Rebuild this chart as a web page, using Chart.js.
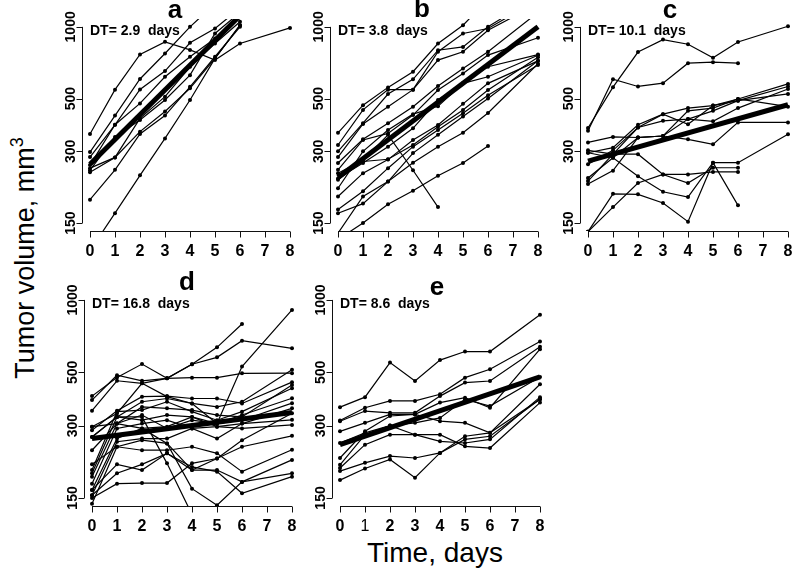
<!DOCTYPE html>
<html>
<head>
<meta charset="utf-8">
<script src="https://cdn.jsdelivr.net/npm/chart.js@4.4.1/dist/chart.umd.min.js"></script>
<style>
  body { margin: 0; background: #fff; width: 800px; height: 572px; position: relative; overflow: hidden;
         font-family: "Liberation Sans", Arial, sans-serif; }
  canvas { position: absolute; }
  #ytitle { position: absolute; left: 25px; top: 258px; transform: translate(-50%, -50%) rotate(-90deg);
            font-size: 27px; white-space: nowrap; line-height: 30px; }
  #ytitle sup { font-size: 18px; vertical-align: 11px; line-height: 0; }
  #xtitle { position: absolute; left: 367px; top: 539px; font-size: 28px; line-height: 28px; white-space: nowrap; }
</style>
</head>
<body>
<div id="ytitle">Tumor volume, mm<sup>3</sup></div>
<div id="xtitle">Time, days</div>
<script>
// measurement days (no measurement on day 7)
const days = [0, 1, 2, 3, 4, 5, 6, 8];
const xTicks = [0, 1, 2, 3, 4, 5, 6, 7, 8];
const yTicks = [150, 300, 500, 1000];
const panelLetters = ["a", "b", "c", "d", "e"];
const doublingTimes = ["2.9", "3.8", "10.1", "16.8", "8.6"];

// tumor volumes (mm3) per mouse, one row per animal
const seriesA = [
  [355, 545, 766, 865, 800, 725, 851, 990],
  [298, 424, 604, 773, 1000, 1250],
  [284, 388, 546, 652, 857, 984, 1200],
  [263, 388, 477, 617, 749, 894, 1100],
  [255, 283, 413, 509, 680, 851, 1050],
  [250, 345, 406, 493, 627, 938, 1150],
  [245, 283, 363, 441, 552, 737, 1016],
  [188, 251, 355, 424, 560, 749, 1000],
  [115, 165, 238, 340, 493, 737, 1016]
];
const seriesB = [
  [359, 469, 557, 648, 851, 1016, 1300],
  [319, 448, 545, 545, 786, 938, 984, 1300],
  [300, 394, 522, 602, 798, 824, 1000, 1350],
  [284, 391, 462, 545, 725, 786, 968, 1250],
  [268, 337, 394, 462, 564, 669, 786, 1150],
  [251, 335, 357, 426, 543, 637, 761, 900],
  [243, 276, 352, 250, 175],
  [231, 268, 314, 375, 493, 579, 680, 765],
  [228, 272, 278, 319, 381, 448, 543, 745],
  [210, 300, 369, 430, 464, 579, 617, 760],
  [194, 243, 277, 335, 387, 475, 579, 720],
  [171, 204, 255, 314, 369, 434, 516, 692],
  [165, 181, 224, 295, 352, 420, 500, 720],
  [136, 194, 224, 269, 314, 359, 435, 700],
  [128, 150, 180, 205, 237, 268, 316]
];
const seriesC = [
  [376, 558, 784, 884, 845, 742, 864, 1006],
  [366, 603, 562, 580, 704, 711, 704],
  [327, 345, 343, 348, 337, 321, 397, 397],
  [296, 311, 388, 430, 456, 467, 498, 576],
  [265, 303, 378, 403, 410, 444, 490, 562],
  [232, 282, 343, 348, 410, 401, 456, 548],
  [225, 292, 378, 430, 390, 467, 490, 523],
  [219, 249, 343, 348, 444, 456, 498, 462],
  [296, 282, 236, 203, 193, 269, 178],
  [303, 292, 292, 240, 221, 256, 256],
  [138, 199, 198, 182, 152, 269, 269, 354],
  [138, 175, 221, 240, 240, 246, 246]
];
const seriesD = [
  [383, 486, 461, 472, 540, 635, 794],
  [398, 476, 541, 472, 540, 577, 677, 629],
  [346, 461, 450, 472, 475, 475, 495, 496],
  [297, 337, 450, 396, 371, 306, 528, 909],
  [287, 346, 396, 398, 389, 389, 371, 455],
  [269, 326, 377, 389, 371, 359, 377, 512],
  [237, 306, 359, 354, 348, 332, 326, 443],
  [196, 343, 348, 377, 343, 316, 343, 429],
  [190, 326, 316, 332, 326, 306, 332, 390],
  [184, 306, 332, 292, 316, 306, 316, 372],
  [172, 292, 306, 316, 292, 297, 306, 354],
  [162, 265, 292, 297, 326, 297, 292, 302],
  [154, 257, 265, 265, 292, 265, 306, 317],
  [297, 306, 292, 253, 164, 140, 175, 216],
  [269, 326, 326, 209, 128],
  [207, 245, 237, 237, 245, 230, 193, 238],
  [162, 207, 196, 230, 196, 196, 175, 190],
  [154, 190, 207, 230, 202, 193, 157, 184],
  [150, 172, 173, 173, 209, 219, 245, 272],
  [142, 245, 261, 253, 196, 219, 261, 338]
];
const seriesE = [
  [358, 394, 549, 460, 562, 610, 610, 868],
  [315, 356, 380, 380, 405, 475, 515, 672],
  [313, 345, 339, 339, 398, 453, 460, 638],
  [284, 308, 334, 334, 374, 392, 356, 624],
  [254, 280, 300, 308, 323, 386, 362, 478],
  [220, 284, 329, 334, 313, 308, 280, 386],
  [206, 275, 300, 275, 275, 246, 242, 374],
  [200, 250, 275, 275, 258, 254, 263, 394],
  [194, 210, 224, 220, 231, 271, 280, 446],
  [178, 199, 217, 182, 231, 263, 271, 386]
];

// exponential fits (thick line), value at day 0 and day 8
const fitDays = [0, 8];
const fitA = [265, 1800];
const fitB = [233, 1000];
const fitC = [273, 471];
const fitD = [265, 340];
const fitE = [250, 478];

const allSeries = [seriesA, seriesB, seriesC, seriesD, seriesE];
const allFits = [fitA, fitB, fitC, fitD, fitE];

// where each panel sits on the page
const layout = [
  { left: 40,  top: 0,   padTop: 19, padBottom: 39, titleX: 135, titleY: 18 },
  { left: 288, top: 0,   padTop: 19, padBottom: 39, titleX: 134, titleY: 17 },
  { left: 538, top: 0,   padTop: 19, padBottom: 39, titleX: 132, titleY: 18 },
  { left: 42,  top: 270, padTop: 22, padBottom: 34, titleX: 145, titleY: 20 },
  { left: 290, top: 270, padTop: 22, padBottom: 34, titleX: 147, titleY: 25, thinTick: 1 }
];

const TICK_FONT = '"Liberation Sans Narrow", "Liberation Sans", Arial, sans-serif';
const FONT = '"Liberation Sans", Arial, sans-serif';

// R-style axes: lines span only the tick range, drawn at the plot edges
function rAxes(idx) {
  const lay = layout[idx];
  return {
    id: "rAxes" + idx,
    afterDraw(chart) {
      const { ctx, chartArea: a, scales: { x, y } } = chart;
      ctx.save();
      ctx.strokeStyle = "#111";
      ctx.lineWidth = 1;
      ctx.beginPath();
      const ax = Math.round(a.left) + 0.5;
      ctx.moveTo(ax, y.getPixelForValue(1000));
      ctx.lineTo(ax, y.getPixelForValue(150));
      yTicks.forEach((t) => {
        const py = Math.round(y.getPixelForValue(t)) + 0.5;
        ctx.moveTo(ax, py);
        ctx.lineTo(ax - 6, py);
      });
      const xb = Math.round(a.bottom) + 0.5;
      ctx.moveTo(x.getPixelForValue(0), xb);
      ctx.lineTo(x.getPixelForValue(8), xb);
      xTicks.forEach((t) => {
        const px = Math.round(x.getPixelForValue(t)) + 0.5;
        ctx.moveTo(px, xb);
        ctx.lineTo(px, xb + 6);
      });
      ctx.stroke();

      ctx.fillStyle = "#000";
      // y tick labels, rotated like R's las=0
      ctx.font = "bold 14px " + FONT;
      ctx.textAlign = "center";
      ctx.textBaseline = "alphabetic";
      yTicks.forEach((t) => {
        ctx.save();
        ctx.translate(a.left - 7, y.getPixelForValue(t));
        ctx.rotate(-Math.PI / 2);
        ctx.fillText(String(t), 0, 0);
        ctx.restore();
      });
      // x tick labels
      ctx.textBaseline = "middle";
      xTicks.forEach((t) => {
        ctx.font = (lay.thinTick === t ? "" : "bold ") + "16px " + TICK_FONT;
        ctx.fillText(String(t), x.getPixelForValue(t), a.bottom + 21);
      });
      // panel letter
      ctx.font = "bold 26px " + FONT;
      ctx.textBaseline = "alphabetic";
      ctx.fillText(panelLetters[idx], lay.titleX, lay.titleY);
      // doubling time
      ctx.font = "bold 14px " + FONT;
      ctx.textAlign = "left";
      ctx.fillText("DT= " + doublingTimes[idx] + "  days", x.getPixelForValue(0), y.getPixelForValue(1000) + 8);
      ctx.restore();
    }
  };
}

function makePanel(idx) {
  const lay = layout[idx];
  const cv = document.createElement("canvas");
  cv.width = 262;
  cv.height = 270;
  cv.style.left = lay.left + "px";
  cv.style.top = lay.top + "px";
  document.body.appendChild(cv);

  const datasets = allSeries[idx].map((vals) => ({
    data: vals.map((v, i) => ({ x: days[i], y: v })),
    borderColor: "#000",
    borderWidth: 1.2,
    pointRadius: 2,
    pointBackgroundColor: "#000",
    pointBorderWidth: 0,
    tension: 0
  }));
  const fit = allFits[idx];
  datasets.push({
    data: fitDays.map((d, i) => ({ x: d, y: fit[i] })),
    borderColor: "#000",
    borderWidth: 5,
    pointRadius: 0,
    tension: 0
  });

  new Chart(cv, {
    type: "line",
    data: { datasets },
    options: {
      responsive: false,
      animation: false,
      devicePixelRatio: 1,
      layout: { padding: { left: 42, right: 3, top: lay.padTop, bottom: lay.padBottom } },
      plugins: { legend: { display: false }, tooltip: { enabled: false } },
      scales: {
        x: { type: "linear", min: -0.32, max: 8.32, display: false },
        y: { type: "logarithmic", min: 138.9, max: 1079, display: false }
      }
    },
    plugins: [rAxes(idx)]
  });
}

document.addEventListener("DOMContentLoaded", () => {
  for (let i = 0; i < 5; i++) makePanel(i);
});
</script>
</body>
</html>
